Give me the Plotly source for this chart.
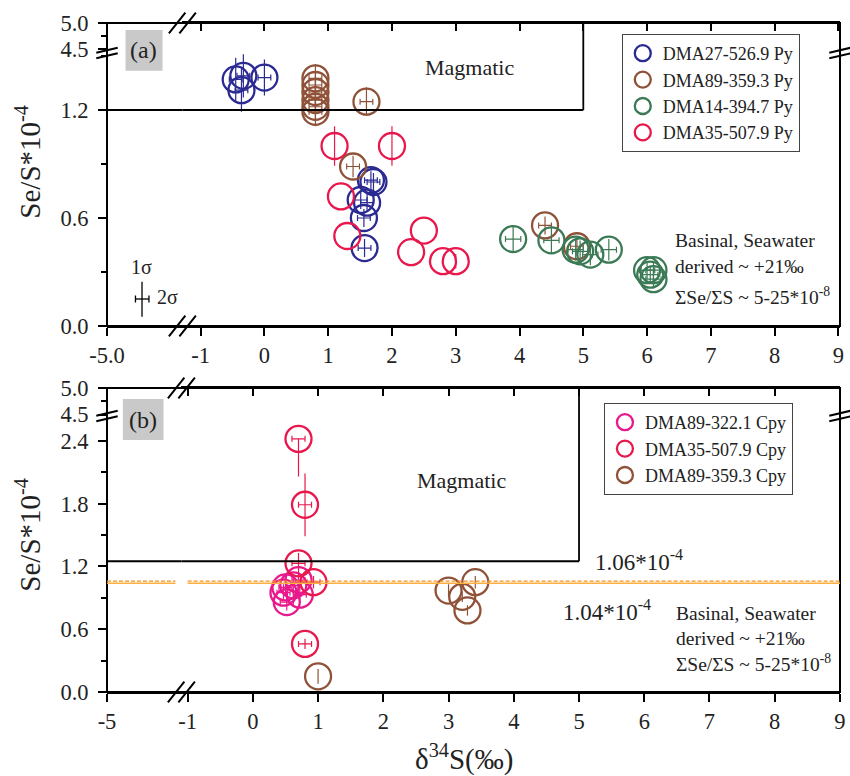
import plotly.graph_objects as go

# ---------------- data ----------------
# Panel (a): pyrite
a_dma27_x = [-0.45, -0.33, -0.36, 0.0, 1.67, 1.71, 1.51, 1.61, 1.56, 1.57]
a_dma27_y = [1.37, 1.39, 1.31, 1.38, 0.81, 0.80, 0.70, 0.685, 0.60, 0.433]
a_dma27_ey = [0.12, 0.12, 0.12, 0.10, 0.05, 0.05, 0.05, 0.05, 0.05, 0.05]

a_dma89_x = [0.80, 0.80, 0.80, 0.80, 0.80, 0.80, 1.60, 1.39, 4.40, 4.90]
a_dma89_y = [1.376, 1.339, 1.30, 1.255, 1.218, 1.19, 1.246, 0.886, 0.559, 0.443]
a_dma89_ey = [0.08, 0.08, 0.08, 0.08, 0.08, 0.08, 0.08, 0.06, 0.05, 0.05]

a_dma14_x = [3.90, 4.50, 4.88, 4.95, 5.11, 5.40, 6.00, 6.10, 6.05, 6.10]
a_dma14_y = [0.483, 0.476, 0.424, 0.415, 0.397, 0.424, 0.31, 0.31, 0.285, 0.26]
a_dma14_ey = [0.07, 0.07, 0.06, 0.06, 0.06, 0.06, 0.05, 0.05, 0.05, 0.05]

a_dma35_x = [1.10, 2.00, 1.20, 1.30, 2.30, 2.50, 2.80, 3.00]
a_dma35_y = [1.00, 1.00, 0.72, 0.50, 0.41, 0.53, 0.36, 0.36]
a_dma35_ey = [0.11, 0.11, 0.0, 0.0, 0.0, 0.0, 0.0, 0.04]

# Panel (b): chalcopyrite
b_dma89_322_x = [0.50, 0.47, 0.52, 0.62, 0.70, 0.72]
b_dma89_322_y = [1.00, 0.95, 0.86, 1.02, 1.07, 0.93]
b_dma89_322_ey = [0.08, 0.08, 0.08, 0.08, 0.08, 0.08]

b_dma35_x = [0.70, 0.80, 0.70, 0.93, 0.80]
b_dma35_y = [2.42, 1.79, 1.23, 1.05, 0.46]
b_dma35_ey_plus = [0.0, 0.30, 0.10, 0.06, 0.05]
b_dma35_ey_minus = [0.36, 0.30, 0.10, 0.06, 0.05]

b_dma89_359_x = [3.00, 3.41, 3.21, 3.29, 1.00]
b_dma89_359_y = [0.97, 1.05, 0.91, 0.78, 0.15]
b_dma89_359_ey = [0.06, 0.06, 0.05, 0.05, 0.07]

x_err = 0.10  # horizontal 2-sigma bar half-width (per mil)

magmatic_a = 1.20
magmatic_b = 1.25
magmatic_x = 5.0
line_106 = 1.06
line_104 = 1.04

x_ticks = [-1, 0, 1, 2, 3, 4, 5, 6, 7, 8, 9]

# ---------------- geometry helpers ----------------
W, H = 850, 776
ML, MR, MT, MB = 107, 4, 23, 84
PW = W - ML - MR
PH = H - MT - MB


def px(x):
    return (x - ML) / PW


def py(y):
    return (H - MB - y) / PH


FONT = "Liberation Serif"
BLUE = "#2a2a92"
BROWN = "#8f5238"
GREEN = "#3b7a55"
RED = "#e8174c"
MAGENTA = "#e8198c"
ORANGE = "#f7941d"

A_TOP, A_BRK, A_BOT = 23, 53, 326
B_TOP, B_BRK, B_BOT = 388, 416, 692
XBRK_A, XBRK_B = 183, 182

fig = go.Figure()


def add_series(x, y, ey, color, name, xa, ya, legend, ey_minus=None, ex=x_err):
    ey_d = dict(type="data", array=ey, color=color, thickness=1.2, width=0, symmetric=ey_minus is None)
    if ey_minus is not None:
        ey_d["arrayminus"] = ey_minus
    if ex > 0:
        ex_d = dict(type="data", array=[ex] * len(x), color=color, thickness=1.2, width=3)
    else:
        ex_d = dict(visible=False)
    fig.add_trace(go.Scatter(
        x=x, y=y, mode="markers", name=name, xaxis=xa, yaxis=ya, legend=legend,
        marker=dict(symbol="circle-open", size=26, color=color, line=dict(width=2.3, color=color)),
        error_x=ex_d,
        error_y=ey_d,
        hoverinfo="x+y+name",
    ))


add_series(a_dma27_x, a_dma27_y, a_dma27_ey, BLUE, "DMA27-526.9 Py", "x", "y", "legend")
add_series(a_dma89_x, a_dma89_y, a_dma89_ey, BROWN, "DMA89-359.3 Py", "x", "y", "legend")
add_series(a_dma14_x, a_dma14_y, a_dma14_ey, GREEN, "DMA14-394.7 Py", "x", "y", "legend", ex=0.12)
add_series(a_dma35_x, a_dma35_y, a_dma35_ey, RED, "DMA35-507.9 Py", "x", "y", "legend", ex=0.0)

add_series(b_dma89_322_x, b_dma89_322_y, b_dma89_322_ey, MAGENTA, "DMA89-322.1 Cpy", "x4", "y3", "legend2")
add_series(b_dma35_x, b_dma35_y, b_dma35_ey_plus, RED, "DMA35-507.9 Cpy", "x4", "y3", "legend2",
           ey_minus=b_dma35_ey_minus)
add_series(b_dma89_359_x, b_dma89_359_y, b_dma89_359_ey, BROWN, "DMA89-359.3 Cpy", "x4", "y3", "legend2", ex=0.0)

# empty traces so every axis pair exists
for xa, ya in [("x2", "y"), ("x3", "y2"), ("x5", "y3"), ("x6", "y4")]:
    fig.add_trace(go.Scatter(x=[], y=[], xaxis=xa, yaxis=ya, showlegend=False, hoverinfo="skip"))

tickfont = dict(family=FONT, size=22.5, color="#222")
common = dict(showgrid=False, zeroline=False, linecolor="black", linewidth=2, ticks="outside",
              ticklen=8, tickwidth=2, tickcolor="black", tickfont=tickfont, showline=True,
              ticklabeloverflow="allow")
ycommon = dict(**common, anchor="free", position=0, ticklabelstandoff=5, tick0=0, tickformat=".1f")

# ranges
a_ylow = [0, (A_BOT - A_BRK) / ((A_BOT - 110) / magmatic_a)]
a_yup = [5.0 - (A_BRK - A_TOP) / 52.0, 5.0]
b_ylow = [0, (B_BOT - B_BRK) / 104.6]
b_yup = [5.0 - (B_BRK - B_TOP) / 53.0, 5.0]
a_xr = [-1 - (201.4 - XBRK_A) / 64.3, -1 + (846 - 201.4) / 64.3]
b_xr = [-(254 - XBRK_B) / 65.75, 9.0005]
stub_r = [-5, -4]

tick_text = [str(v) for v in x_ticks]

leg_common = dict(xanchor="left", yanchor="top", bgcolor="white", bordercolor="#444", borderwidth=1,
                  font=dict(family=FONT, size=18, color="#222"), tracegroupgap=0, itemsizing="trace")


def minor(d):
    return dict(tick0=0, dtick=d, ticks="outside", ticklen=5, tickwidth=2, tickcolor="black")


fig.update_layout(
    width=W, height=H, margin=dict(l=ML, r=MR, t=MT, b=MB),
    paper_bgcolor="white", plot_bgcolor="white",
    font=dict(family=FONT, color="#222"),
    # ---- panel (a)
    xaxis=dict(**common, domain=[px(XBRK_A), 1], range=a_xr, anchor="y",
               tickmode="array", tickvals=x_ticks, ticktext=tick_text),
    xaxis2=dict(**common, domain=[0, px(XBRK_A)], range=stub_r, anchor="y",
                tickmode="array", tickvals=[-5], ticktext=["-5.0"]),
    xaxis3=dict(**{**common, "ticks": "inside"}, domain=[px(XBRK_A), 1], range=a_xr, anchor="y2",
                overlaying="x", side="top", tickmode="array", tickvals=x_ticks, showticklabels=False),
    yaxis=dict(**ycommon, domain=[py(A_BOT), py(A_BRK)], range=a_ylow, dtick=0.6, minor=minor(0.3)),
    yaxis2=dict(**ycommon, domain=[py(A_BRK), py(A_TOP)], range=a_yup, dtick=0.5, minor=minor(0.25)),
    # ---- panel (b)
    xaxis4=dict(**common, domain=[px(XBRK_B), 1], range=b_xr, anchor="y3",
                tickmode="array", tickvals=x_ticks, ticktext=tick_text),
    xaxis5=dict(**common, domain=[0, px(XBRK_B)], range=stub_r, anchor="y3",
                tickmode="array", tickvals=[-5], ticktext=["-5"]),
    xaxis6=dict(**{**common, "ticks": "inside"}, domain=[px(XBRK_B), 1], range=b_xr, anchor="y4",
                overlaying="x4", side="top", tickmode="array", tickvals=x_ticks, showticklabels=False),
    yaxis3=dict(**ycommon, domain=[py(B_BOT), py(B_BRK)], range=b_ylow, dtick=0.6, minor=minor(0.3)),
    yaxis4=dict(**ycommon, domain=[py(B_BRK), py(B_TOP)], range=b_yup, dtick=0.5, minor=minor(0.25)),
    legend=dict(x=px(626), y=py(34), **leg_common),
    legend2=dict(x=px(608), y=py(403), **leg_common),
    showlegend=True,
)

shapes = []


def line(x0, y0, x1, y1, xref="paper", yref="paper", color="black", width=2, dash="solid"):
    shapes.append(dict(type="line", x0=x0, y0=y0, x1=x1, y1=y1, xref=xref, yref=yref,
                       line=dict(color=color, width=width, dash=dash), layer="above"))


# frames
for top, bot in [(A_TOP, A_BOT), (B_TOP, B_BOT)]:
    shapes.append(dict(type="rect", xref="paper", yref="paper", x0=0, x1=1, y0=py(bot), y1=py(top),
                       line=dict(color="black", width=2), layer="above"))

# magmatic boxes (left stub part + main part)
line(stub_r[0], magmatic_a, stub_r[1] + 0.2, magmatic_a, "x2", "y", width=1.8)
line(a_xr[0] - 0.2, magmatic_a, magmatic_x, magmatic_a, "x", "y", width=1.8)
line(magmatic_x, magmatic_a, magmatic_x, a_ylow[1], "x", "y", width=1.8)
line(magmatic_x, a_yup[0], magmatic_x, a_yup[1], "x", "y2", width=1.8)

line(stub_r[0], magmatic_b, stub_r[1] + 0.2, magmatic_b, "x5", "y3", width=1.8)
line(b_xr[0] - 0.2, magmatic_b, magmatic_x, magmatic_b, "x4", "y3", width=1.8)
line(magmatic_x, magmatic_b, magmatic_x, b_ylow[1], "x4", "y3", width=1.8)
line(magmatic_x, b_yup[0], magmatic_x, b_yup[1], "x4", "y4", width=1.8)

# reference lines in (b)
line(stub_r[0], line_106, -4.08, line_106, "x5", "y3", color=ORANGE, width=1.2, dash="4px,2px")
line(-1.0, line_106, b_xr[1], line_106, "x4", "y3", color=ORANGE, width=1.2, dash="4px,2px")
line(stub_r[0], line_104, -4.08, line_104, "x5", "y3", color="#fbb040", width=1.6)
line(-1.0, line_104, b_xr[1], line_104, "x4", "y3", color="#fbb040", width=1.6)


# break marks (pixel-defined decorations)
def xbreak(cx, cy):
    for o in (-5.3, 5.3):
        line(px(cx + o - 8.3), py(cy + 10.3), px(cx + o + 8.3), py(cy - 10.3), width=2)


def ybreak(cx, cy):
    for o in (-2.8, 2.8):
        line(px(cx - 10.8), py(cy + o + 2.5), px(cx + 10.8), py(cy + o - 2.5), width=2)


xbreak(XBRK_A, A_BOT)
xbreak(XBRK_A, A_TOP)
xbreak(XBRK_B, B_BOT)
xbreak(XBRK_B, B_TOP)
ybreak(ML, A_BRK)
ybreak(846, A_BRK)
ybreak(ML, B_BRK)
ybreak(846, B_BRK)

# 1 sigma / 2 sigma glyph
line(px(142.3), py(281.7), px(142.3), py(316.7), width=1.3)
line(px(135.7), py(299), px(149.3), py(299), width=1.3)
line(px(135.7), py(295.5), px(135.7), py(302.5), width=1.3)
line(px(149.3), py(295.5), px(149.3), py(302.5), width=1.3)

# label boxes
shapes.append(dict(type="rect", xref="paper", yref="paper", x0=px(125.7), x1=px(163), y0=py(70.7), y1=py(30),
                   fillcolor="#c9c9c9", line=dict(width=0), layer="above"))
shapes.append(dict(type="rect", xref="paper", yref="paper", x0=px(123), x1=px(164), y0=py(440), y1=py(399),
                   fillcolor="#c9c9c9", line=dict(width=0), layer="above"))

fig.update_layout(shapes=shapes)

ann = []


def text(t, x, y, size=20, xanchor="center", angle=0):
    ann.append(dict(text=t, x=px(x), y=py(y), xref="paper", yref="paper", showarrow=False,
                    xanchor=xanchor, yanchor="middle", textangle=angle,
                    font=dict(family=FONT, size=size, color="#222")))


text("(a)", 144.3, 50.3, 24)
text("(b)", 143.5, 419.5, 24)
text("Magmatic", 472, 68, 22)
text("Magmatic", 464, 480, 22)
text("1σ", 141.7, 267, 20)
text("2σ", 168, 297, 20)
for base_y, x0 in [((240, 266, 296), 678), ((613, 638, 663), 679)]:
    text("Basinal, Seawater", x0, base_y[0], 19.5, "left")
    text("derived ~ +21‰", x0, base_y[1], 19.5, "left")
    text("ΣSe/ΣS ~ 5-25*10<sup>-8</sup>", x0, base_y[2], 19.5, "left")
text("1.06*10<sup>-4</sup>", 597, 560, 23, "left")
text("1.04*10<sup>-4</sup>", 565, 610, 23, "left")
text("Se/S*10<sup>-4</sup>", 27, 162, 29, angle=-90)
text("Se/S*10<sup>-4</sup>", 27, 535, 29, angle=-90)
text("δ<sup>34</sup>S(‰)", 467, 757, 29)

fig.update_layout(annotations=ann)

fig.write_html("out.html", config={"displayModeBar": False},
               post_script="document.body.style.margin='0';document.body.style.overflow='hidden';")
